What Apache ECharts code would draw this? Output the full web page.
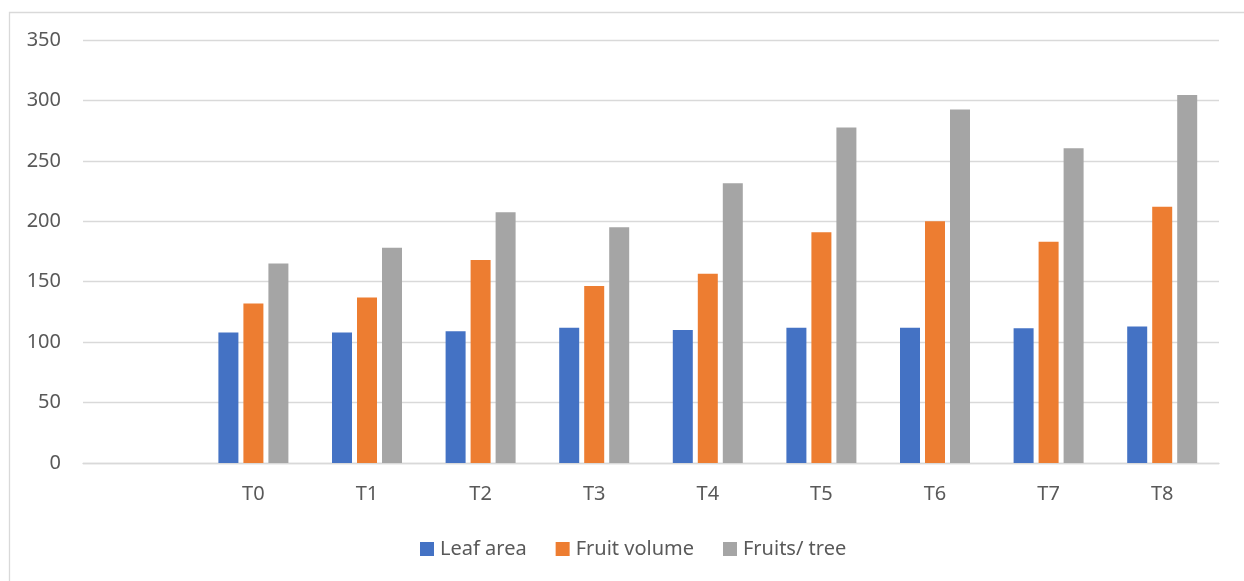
<!DOCTYPE html>
<html>
<head>
<meta charset="utf-8">
<script src="https://cdn.jsdelivr.net/npm/echarts@6/dist/echarts.min.js"></script>
<style>
  html, body { margin: 0; padding: 0; background: #ffffff; }
  #chart { width: 1244px; height: 581px; }
</style>
</head>
<body>
<div id="chart"></div>
<script>
// Treatments (the first slot is an empty category)
const categories = ['', 'T0', 'T1', 'T2', 'T3', 'T4', 'T5', 'T6', 'T7', 'T8'];
const leafArea = [null, 108, 108, 109, 112, 110, 112, 112, 111.5, 113];
const fruitVolume = [null, 132, 137, 168, 146.5, 156.5, 191, 200, 183, 212];
const fruitsPerTree = [null, 165, 178, 207.5, 195, 231.5, 277.5, 292.5, 260.5, 304.5];
const yTicks = { min: 0, max: 350, step: 50 };

const textColor = '#595959';
const gridColor = '#d9d9d9';
const fontFamily = '"Noto Sans", "Open Sans", sans-serif';

const chart = echarts.init(document.getElementById('chart'), null, { renderer: 'canvas' });

function barSeries(name, data, color) {
  return {
    name: name,
    type: 'bar',
    data: data,
    barWidth: 20,
    barGap: '25%',
    itemStyle: { color: color },
    emphasis: { disabled: true }
  };
}

chart.setOption({
  animation: false,
  backgroundColor: '#ffffff',
  textStyle: { fontFamily: fontFamily },
  graphic: [{
    type: 'rect',
    left: 7,
    top: 10,
    shape: { x: 0.5, y: 0.5, width: 1400, height: 700 },
    style: { fill: 'none', stroke: gridColor, lineWidth: 1.3 },
    silent: true,
    z: -1
  }],
  grid: { left: 83, right: 25, top: 40, bottom: 118, containLabel: false },
  legend: {
    left: 415,
    top: 534,
    itemWidth: 14,
    itemHeight: 14,
    itemGap: 29,
    icon: 'rect',
    selectedMode: false,
    textStyle: { color: textColor, fontSize: 20, fontFamily: fontFamily, padding: [0, 0, 0, 1] },
    data: ['Leaf area', 'Fruit volume', 'Fruits/ tree']
  },
  xAxis: {
    type: 'category',
    data: categories,
    axisLine: { show: true, lineStyle: { color: gridColor, width: 1.3 } },
    axisTick: { show: false },
    axisLabel: { color: textColor, fontSize: 20, margin: 21, fontFamily: fontFamily },
    splitLine: { show: false }
  },
  yAxis: {
    type: 'value',
    min: yTicks.min,
    max: yTicks.max,
    interval: yTicks.step,
    axisLine: { show: false },
    axisTick: { show: false },
    axisLabel: { color: textColor, fontSize: 20, margin: 22, fontFamily: fontFamily },
    splitLine: { lineStyle: { color: gridColor, width: 1.3 } }
  },
  series: [
    barSeries('Leaf area', leafArea, '#4472c4'),
    barSeries('Fruit volume', fruitVolume, '#ed7d31'),
    barSeries('Fruits/ tree', fruitsPerTree, '#a5a5a5')
  ]
});
</script>
</body>
</html>
